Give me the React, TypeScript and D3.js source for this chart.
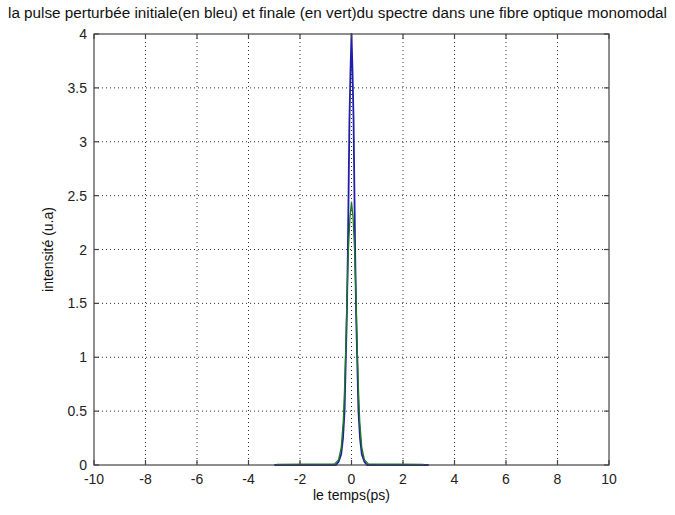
import React from "react";
import * as d3 from "d3";

// Pulse intensity profiles (time in ps, intensity in u.a)
const initialTime = [-3, -0.6, -0.5, -0.4, -0.33, -0.27, -0.22, -0.18, -0.14, -0.1, -0.08, -0.04, 0, 0.04, 0.08, 0.1, 0.14, 0.18, 0.22, 0.27, 0.33, 0.4, 0.5, 0.6, 3];
const initialIntensity = [0, 0, 0.03, 0.1, 0.25, 0.5, 1.0, 1.4, 2.0, 2.8, 3.2, 3.65, 4.0, 3.65, 3.2, 2.8, 2.0, 1.4, 1.0, 0.5, 0.25, 0.1, 0.03, 0, 0];

const finalTime = [-2.9, -0.65, -0.5, -0.4, -0.32, -0.27, -0.22, -0.17, -0.12, -0.06, 0, 0.06, 0.12, 0.17, 0.22, 0.27, 0.32, 0.4, 0.5, 0.65, 2.8];
const finalIntensity = [0.005, 0.01, 0.05, 0.16, 0.4, 0.7, 1.1, 1.6, 2.0, 2.3, 2.44, 2.3, 2.0, 1.6, 1.1, 0.7, 0.4, 0.16, 0.05, 0.01, 0.005];

const xTicks = [-10, -8, -6, -4, -2, 0, 2, 4, 6, 8, 10];
const yTicks = [0, 0.5, 1, 1.5, 2, 2.5, 3, 3.5, 4];

const titleText = "la pulse perturbée initiale(en bleu) et finale (en vert)du spectre dans une fibre optique monomodal";
const xLabel = "le temps(ps)";
const yLabel = "intensité (u.a)";

const W = 675;
const H = 515;
const left = 94;
const right = 609;
const top = 34;
const bottom = 465;

export default function App() {
  const x = d3.scaleLinear().domain([-10, 10]).range([left, right]);
  const y = d3.scaleLinear().domain([0, 4]).range([bottom, top]);

  const line = d3
    .line<[number, number]>()
    .x((d) => x(d[0]))
    .y((d) => y(d[1]));

  const initialPts: [number, number][] = initialTime.map((t, i) => [t, initialIntensity[i]]);
  const finalPts: [number, number][] = finalTime.map((t, i) => [t, finalIntensity[i]]);

  const font = "'Liberation Sans', Arial, Helvetica, sans-serif";
  const tick = 5;

  return (
    <svg
      width={W}
      height={H}
      style={{ position: "absolute", left: 0, top: 0, background: "#fff" }}
      fontFamily={font}
    >
      <rect x={0} y={0} width={W} height={H} fill="#fff" />
      {/* grid */}
      <g stroke="#333" strokeWidth={1} strokeDasharray="1,3">
        {xTicks.slice(1, -1).map((t) => (
          <line key={"gx" + t} x1={x(t)} x2={x(t)} y1={top} y2={bottom} />
        ))}
        {yTicks.slice(1, -1).map((t) => (
          <line key={"gy" + t} x1={left} x2={right} y1={y(t)} y2={y(t)} />
        ))}
      </g>

      {/* curves */}
      <path d={line(initialPts) || ""} fill="none" stroke="#1f1fa8" strokeWidth={1.8} strokeLinejoin="round" />
      <path d={line(finalPts) || ""} fill="none" stroke="#1d7a1d" strokeWidth={1.3} strokeLinejoin="round" />

      {/* box and ticks */}
      <g stroke="#444" strokeWidth={1.2} fill="none">
        <rect x={left} y={top} width={right - left} height={bottom - top} />
        {xTicks.map((t) => (
          <g key={"tx" + t}>
            <line x1={x(t)} x2={x(t)} y1={bottom} y2={bottom - tick} />
            <line x1={x(t)} x2={x(t)} y1={top} y2={top + tick} />
          </g>
        ))}
        {yTicks.map((t) => (
          <g key={"ty" + t}>
            <line x1={left} x2={left + tick} y1={y(t)} y2={y(t)} />
            <line x1={right} x2={right - tick} y1={y(t)} y2={y(t)} />
          </g>
        ))}
      </g>

      {/* tick labels */}
      <g fontSize={14} fill="#222">
        {xTicks.map((t) => (
          <text key={"lx" + t} x={x(t)} y={bottom + 19} textAnchor="middle">
            {t}
          </text>
        ))}
        {yTicks.map((t) => (
          <text key={"ly" + t} x={left - 7} y={y(t) + 5} textAnchor="end">
            {t}
          </text>
        ))}
      </g>

      {/* titles */}
      <text x={8} y={18} fontSize={14} fill="#111" textLength={659} lengthAdjust="spacingAndGlyphs">
        {titleText}
      </text>
      <text x={x(0)} y={500} fontSize={14} fill="#111" textAnchor="middle">
        {xLabel}
      </text>
      <text
        transform={`translate(53, ${(top + bottom) / 2}) rotate(-90)`}
        fontSize={14}
        fill="#111"
        textAnchor="middle"
      >
        {yLabel}
      </text>
    </svg>
  );
}
